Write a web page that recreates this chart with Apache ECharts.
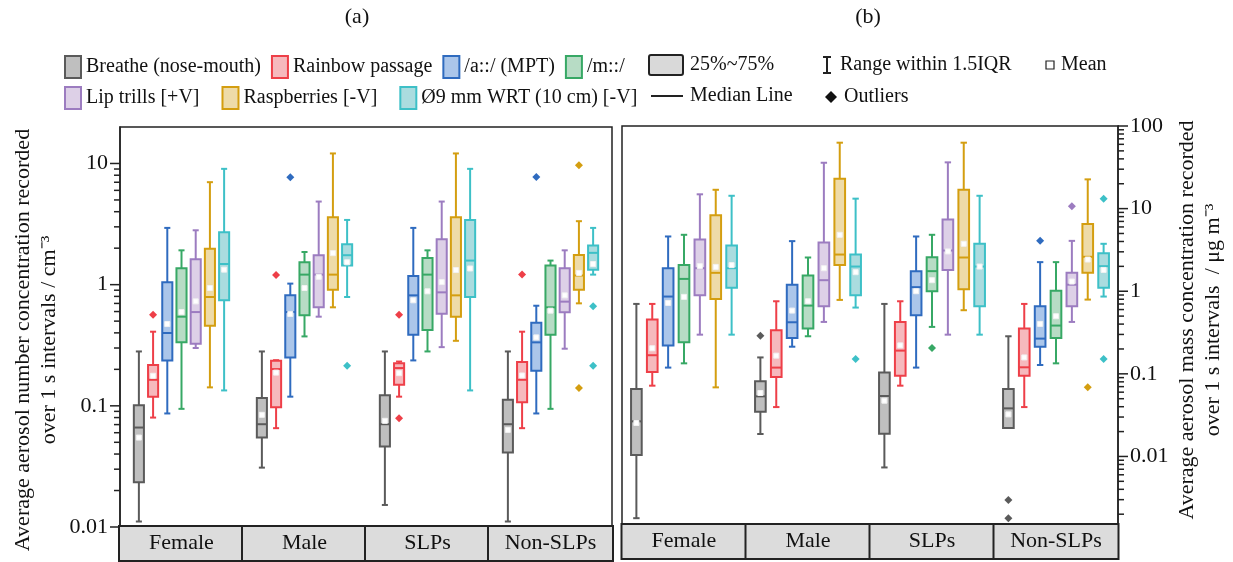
<!DOCTYPE html>
<html>
<head>
<meta charset="utf-8">
<script src="https://cdn.jsdelivr.net/npm/echarts@6/dist/echarts.min.js"></script>
<style>
  html, body { margin: 0; padding: 0; background: #fff; }
  #main { width: 1233px; height: 562px; }
</style>
</head>
<body>
<div id="main"></div>
<script>
const categories = ['Female', 'Male', 'SLPs', 'Non-SLPs'];
const seriesNames = ['Breathe (nose-mouth)', 'Rainbow passage', '/a::/ (MPT)', '/m::/',
  'Lip trills [+V]', 'Raspberries [-V]', 'Ø9 mm WRT (10 cm) [-V]'];

// (a) number concentration / cm-3 ; one row per category: [min, Q1, median, Q3, max]
const numBreathe = [[0.0111, 0.0234, 0.0662, 0.101, 0.281], [0.0309, 0.0547, 0.0705, 0.116, 0.281], [0.0152, 0.0461, 0.0705, 0.122, 0.281], [0.0111, 0.0411, 0.0705, 0.112, 0.281]];
const numRainbow = [[0.080, 0.119, 0.164, 0.217, 0.409], [0.0654, 0.0975, 0.201, 0.235, 0.238], [0.119, 0.149, 0.205, 0.225, 0.232], [0.0654, 0.107, 0.164, 0.230, 0.409]];
const numMPT = [[0.0865, 0.237, 0.399, 1.045, 2.94], [0.119, 0.251, 0.594, 0.816, 1.02], [0.237, 0.386, 0.816, 1.18, 2.94], [0.0865, 0.195, 0.334, 0.485, 0.670]];
const numHum = [[0.0944, 0.334, 0.544, 1.365, 1.92], [0.374, 0.558, 1.21, 1.53, 1.86], [0.281, 0.422, 1.21, 1.66, 1.92], [0.0944, 0.386, 0.650, 1.44, 1.58]];
const numLip = [[0.30, 0.325, 0.594, 1.62, 2.81], [0.544, 0.650, 1.21, 1.75, 4.85], [0.305, 0.576, 0.864, 2.37, 4.85], [0.296, 0.591, 0.724, 1.365, 1.92]];
const numRasp = [[0.142, 0.458, 0.791, 1.98, 7.01], [0.650, 0.909, 1.21, 3.60, 12.1], [0.344, 0.544, 0.816, 3.60, 12.1], [0.701, 0.909, 1.19, 1.76, 3.34]];
const numWRT = [[0.134, 0.743, 1.48, 2.71, 9.03], [0.791, 1.44, 1.75, 2.15, 3.42], [0.134, 0.791, 1.58, 3.42, 9.03], [1.21, 1.33, 1.83, 2.10, 2.94]];
// means, one row per series (Female, Male, SLPs, Non-SLPs)
const numMeans = [
  [0.0547, 0.0843, 0.0752, 0.0633],
  [0.177, 0.188, 0.186, 0.178],
  [0.473, 0.573, 0.743, 0.367],
  [0.594, 0.938, 0.881, 0.610],
  [0.728, 1.16, 1.05, 0.816],
  [0.938, 1.82, 1.32, 1.25],
  [1.33, 1.53, 1.36, 1.48]
];
// outliers: [series, category, value]
const numOutliers = [
  [1, 0, 0.565], [1, 1, 1.20], [1, 2, 0.565], [1, 2, 0.079], [1, 3, 1.21],
  [2, 1, 7.71], [2, 3, 7.75],
  [5, 3, 9.68], [5, 3, 0.140],
  [6, 1, 0.214], [6, 3, 0.662], [6, 3, 0.214]
];

// (b) mass concentration / ug m-3
const massBreathe = [[0.00179, 0.0104, 0.0266, 0.0655, 0.702], [0.0187, 0.0348, 0.0534, 0.0811, 0.158], [0.00736, 0.0188, 0.0539, 0.104, 0.702], [0.0221, 0.0221, 0.0382, 0.0655, 0.285]];
const massRainbow = [[0.0719, 0.105, 0.168, 0.454, 0.702], [0.0396, 0.0916, 0.119, 0.337, 0.756], [0.0719, 0.095, 0.191, 0.425, 0.756], [0.0396, 0.095, 0.120, 0.353, 0.702]];
const massMPT = [[0.119, 0.221, 0.862, 1.90, 4.60], [0.213, 0.272, 0.421, 1.20, 4.04], [0.119, 0.512, 1.12, 1.75, 4.60], [0.128, 0.213, 0.267, 0.658, 2.25]];
const massHum = [[0.134, 0.241, 1.41, 2.07, 4.82], [0.285, 0.353, 0.670, 1.55, 2.56], [0.370, 1.0, 1.75, 2.58, 4.82], [0.134, 0.272, 0.384, 1.01, 2.25]];
const massLip = [[0.298, 0.895, 1.90, 4.23, 14.9], [0.425, 0.658, 1.36, 3.89, 35.9], [0.298, 1.81, 3.11, 7.39, 36.3], [0.425, 0.658, 1.20, 1.67, 4.07]];
const massRasp = [[0.0686, 0.807, 1.67, 8.34, 16.9], [0.785, 2.08, 2.78, 23.0, 62.8], [0.589, 1.06, 2.56, 16.9, 62.8], [0.792, 1.67, 2.61, 6.49, 22.6]];
const massWRT = [[0.298, 1.10, 1.90, 3.58, 14.3], [0.634, 0.895, 1.99, 2.78, 13.2], [0.298, 0.658, 1.99, 3.75, 14.3], [0.862, 1.10, 2.01, 2.89, 3.75]];
const massMeans = [
  [0.0254, 0.0586, 0.0473, 0.0323],
  [0.204, 0.166, 0.221, 0.158],
  [0.722, 0.583, 1.0, 0.402],
  [0.854, 0.756, 1.36, 0.498],
  [2.01, 1.90, 3.03, 1.31],
  [1.97, 4.82, 3.75, 2.42],
  [2.07, 1.70, 1.99, 1.81]
];
const massOutliers = [
  [0, 1, 0.290], [0, 3, 0.00298], [0, 3, 0.00179],
  [2, 3, 4.07],
  [3, 2, 0.206],
  [4, 3, 10.7],
  [5, 3, 0.0686],
  [6, 1, 0.151], [6, 3, 13.2], [6, 3, 0.151]
];

// axis ticks
const numTicks = [0.01, 0.02, 0.03, 0.04, 0.05, 0.06, 0.07, 0.08, 0.09, 0.1, 0.2, 0.3, 0.4, 0.5, 0.6, 0.7, 0.8, 0.9, 1, 2, 3, 4, 5, 6, 7, 8, 9, 10];
const massTicks = [0.002, 0.003, 0.004, 0.005, 0.006, 0.007, 0.008, 0.009, 0.01, 0.02, 0.03, 0.04, 0.05, 0.06, 0.07, 0.08, 0.09,
  0.1, 0.2, 0.3, 0.4, 0.5, 0.6, 0.7, 0.8, 0.9, 1, 2, 3, 4, 5, 6, 7, 8, 9, 10, 20, 30, 40, 50, 60, 70, 80, 90, 100];

const lineColors = ['#5a5a5a', '#ee3f48', '#2f6bbf', '#37a865', '#9c7cc0', '#d49e10', '#3dc0c7'];
const fillColors = ['#bfbfbf', '#f6b9bd', '#abc6ea', '#b7dcc5', '#ddd0e7', '#eedba8', '#aadcdf'];
const FONT = 'Liberation Serif';
const INK = '#111';

const numStats = [numBreathe, numRainbow, numMPT, numHum, numLip, numRasp, numWRT];
const massStats = [massBreathe, massRainbow, massMPT, massHum, massLip, massRasp, massWRT];
// box spacing and width as a fraction of one category band
const panelLayout = [{ step: 0.1155, box: 0.082 }, { step: 0.128, box: 0.086 }];

function boxSeries(panel, k, stats, means) {
  const lay = panelLayout[panel];
  return {
    type: 'custom',
    name: seriesNames[k],
    xAxisIndex: panel,
    yAxisIndex: panel,
    itemStyle: { color: fillColors[k], borderColor: lineColors[k], borderWidth: 2 },
    encode: { x: 0, y: [1, 2, 3, 4, 5, 6] },
    data: stats.map((s, c) => [c].concat(s, [means[k][c]])),
    renderItem: function (params, api) {
      const c = api.value(0);
      const band = api.size([1, 0])[0];
      const xc = api.coord([c, 1])[0] + (k - 3) * band * lay.step;
      const hw = band * lay.box / 2;
      const cap = hw * 0.6;
      const y = i => api.coord([c, api.value(i)])[1];
      const yMin = y(1), yQ1 = y(2), yMed = y(3), yQ3 = y(4), yMax = y(5), yMean = y(6);
      const ln = { stroke: lineColors[k], lineWidth: 2 };
      return {
        type: 'group',
        children: [
          { type: 'line', shape: { x1: xc, y1: yMax, x2: xc, y2: yQ3 }, style: ln },
          { type: 'line', shape: { x1: xc, y1: yQ1, x2: xc, y2: yMin }, style: ln },
          { type: 'line', shape: { x1: xc - cap, y1: yMax, x2: xc + cap, y2: yMax }, style: ln },
          { type: 'line', shape: { x1: xc - cap, y1: yMin, x2: xc + cap, y2: yMin }, style: ln },
          { type: 'rect', shape: { x: xc - hw, y: yQ3, width: hw * 2, height: yQ1 - yQ3 },
            style: { fill: fillColors[k], stroke: lineColors[k], lineWidth: 2 } },
          { type: 'line', shape: { x1: xc - hw, y1: yMed, x2: xc + hw, y2: yMed }, style: ln },
          { type: 'rect', shape: { x: xc - 2.5, y: yMean - 2.5, width: 5, height: 5 },
            style: { fill: '#fff', stroke: '#f2f2f2', lineWidth: 1 } }
        ]
      };
    }
  };
}

function outlierSeries(panel, k, outliers) {
  const lay = panelLayout[panel];
  return {
    type: 'custom',
    name: seriesNames[k],
    xAxisIndex: panel,
    yAxisIndex: panel,
    itemStyle: { color: fillColors[k], borderColor: lineColors[k] },
    encode: { x: 0, y: 1 },
    data: outliers.filter(o => o[0] === k).map(o => [o[1], o[2]]),
    renderItem: function (params, api) {
      const c = api.value(0);
      const band = api.size([1, 0])[0];
      const p = api.coord([c, api.value(1)]);
      const x = p[0] + (k - 3) * band * lay.step;
      const r = 4;
      return {
        type: 'polygon',
        shape: { points: [[x, p[1] - r], [x + r, p[1]], [x, p[1] + r], [x - r, p[1]]] },
        style: { fill: lineColors[k] }
      };
    }
  };
}

function tickSeries(panel, ticks, side) {
  return {
    type: 'custom',
    silent: true,
    xAxisIndex: panel,
    yAxisIndex: panel,
    encode: { x: 0, y: 1 },
    data: ticks.map(v => [0, v]),
    renderItem: function (params, api) {
      const cs = params.coordSys;
      const v = api.value(1);
      const lg = Math.log10(v);
      const major = Math.abs(lg - Math.round(lg)) < 1e-6;
      const len = major ? 10 : 6;
      const y = api.coord([0, v])[1];
      const x0 = side === 'left' ? cs.x : cs.x + cs.width;
      const dir = side === 'left' ? -1 : 1;
      return { type: 'line', shape: { x1: x0, y1: y, x2: x0 + dir * len, y2: y },
        style: { stroke: '#222', lineWidth: 1.5 } };
    }
  };
}

function powLabel(value) {
  const lg = Math.log10(value);
  if (Math.abs(lg - Math.round(lg)) > 1e-6) return '';
  return String(Number(value.toPrecision(6)));
}

const catAxis = (gi) => ({
  type: 'category',
  gridIndex: gi,
  data: categories,
  axisLine: { show: false },
  axisTick: { show: false },
  axisLabel: {
    interval: 0, margin: 0, width: 123, height: 33, lineHeight: 33,
    backgroundColor: '#dcdcdc', borderColor: '#222', borderWidth: 2,
    align: 'center', verticalAlign: 'top',
    fontSize: 22, fontFamily: FONT, color: INK
  }
});

const logAxis = (gi, min, max, pos) => ({
  type: 'log',
  gridIndex: gi,
  position: pos,
  min: min,
  max: max,
  axisLine: { show: true, lineStyle: { color: '#222', width: 1.5 } },
  axisTick: { show: false },
  splitLine: { show: false },
  axisLabel: { margin: 12, fontSize: 22, fontFamily: FONT, color: INK, formatter: powLabel }
});

const series = [];
for (let k = 0; k < 7; k++) {
  series.push(boxSeries(0, k, numStats[k], numMeans));
  series.push(outlierSeries(0, k, numOutliers));
  series.push(boxSeries(1, k, massStats[k], massMeans));
  series.push(outlierSeries(1, k, massOutliers));
}
series.push(tickSeries(0, numTicks, 'left'));
series.push(tickSeries(1, massTicks, 'right'));

const legendItem = (k) => ({
  name: seriesNames[k],
  itemStyle: { color: fillColors[k], borderColor: lineColors[k], borderWidth: 2 }
});
const legendBase = {
  padding: 0, icon: 'rect', itemWidth: 16, itemHeight: 22, selectedMode: false,
  textStyle: { fontSize: 20, fontFamily: FONT, color: INK }
};

const txt = (x, y, text, extra) => ({
  type: 'text', x: x, y: y,
  style: Object.assign({ text: text, font: '20px "' + FONT + '"', fill: INK, textAlign: 'left', textVerticalAlign: 'middle' }, extra || {})
});

const chart = echarts.init(document.getElementById('main'));
chart.setOption({
  animation: false,
  backgroundColor: '#fff',
  grid: [
    { left: 120, right: 621, top: 127, bottom: 35, show: true, borderColor: '#222', borderWidth: 1.5 },
    { left: 622, right: 115, top: 126, bottom: 37, show: true, borderColor: '#222', borderWidth: 1.5 }
  ],
  xAxis: [catAxis(0), catAxis(1)],
  yAxis: [logAxis(0, 0.01, 20, 'left'), logAxis(1, 0.00148, 100, 'right')],
  legend: [
    Object.assign({ left: 64, top: 55, itemGap: 10, data: [0, 1, 2, 3].map(legendItem) }, legendBase),
    Object.assign({ left: 64, top: 86, itemGap: 22, data: [4, 5, 6].map(legendItem) }, legendBase)
  ],
  graphic: [
    txt(357, 17, '(a)', { textAlign: 'center', font: '22px "' + FONT + '"' }),
    txt(868, 17, '(b)', { textAlign: 'center', font: '22px "' + FONT + '"' }),
    txt(36, 340, 'Average aerosol number concentration recorded\nover 1 s intervals / cm\u207B\u00B3',
      { textAlign: 'center', font: '22px "' + FONT + '"', lineHeight: 26 }),
    txt(1200, 320, 'Average aerosol mass concentration recorded\nover 1 s intervals  / \u03BCg m\u207B\u00B3',
      { textAlign: 'center', font: '22px "' + FONT + '"', lineHeight: 26 }),
    // key for box elements
    { type: 'rect', shape: { x: 649, y: 55, width: 34, height: 20, r: 2 }, style: { fill: '#d9d9d9', stroke: '#222', lineWidth: 2 } },
    txt(690, 65, '25%~75%'),
    { type: 'line', shape: { x1: 827, y1: 57, x2: 827, y2: 73 }, style: { stroke: '#222', lineWidth: 2 } },
    { type: 'line', shape: { x1: 823, y1: 57, x2: 831, y2: 57 }, style: { stroke: '#222', lineWidth: 2 } },
    { type: 'line', shape: { x1: 823, y1: 73, x2: 831, y2: 73 }, style: { stroke: '#222', lineWidth: 2 } },
    txt(840, 65, 'Range within 1.5IQR'),
    { type: 'rect', shape: { x: 1046, y: 61, width: 8, height: 8 }, style: { fill: '#fff', stroke: '#222', lineWidth: 1.2 } },
    txt(1061, 65, 'Mean'),
    { type: 'line', shape: { x1: 651, y1: 96, x2: 683, y2: 96 }, style: { stroke: '#222', lineWidth: 2 } },
    txt(690, 96, 'Median Line'),
    { type: 'polygon', shape: { points: [[831, 91], [837, 97], [831, 103], [825, 97]] }, style: { fill: '#111' } },
    txt(844, 97, 'Outliers')
  ].map((g, i) => i === 2 || i === 3 ? Object.assign(g, { rotation: Math.PI / 2 }) : g),
  series: series
});
</script>
</body>
</html>
